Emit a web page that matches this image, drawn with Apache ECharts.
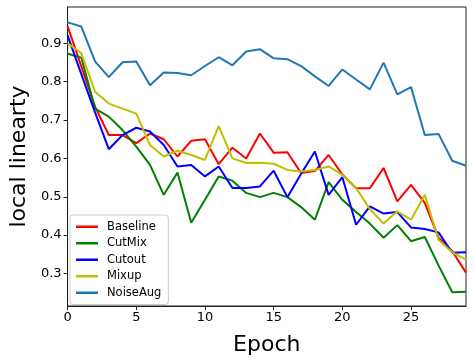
<!DOCTYPE html>
<html>
<head>
<meta charset="utf-8">
<script src="https://cdn.jsdelivr.net/npm/echarts@6/dist/echarts.min.js"></script>
<style>
html,body{margin:0;padding:0;background:#fff;}
#chart{width:474px;height:363px;}
</style>
</head>
<body>
<div id="chart"></div>
<script>
const epochs = [0,1,2,3,4,5,6,7,8,9,10,11,12,13,14,15,16,17,18,19,20,21,22,23,24,25,26,27,28,29];
const seriesNames = ['Baseline','CutMix','Cutout','Mixup','NoiseAug'];
const baseline = [0.945,0.84,0.735,0.661,0.661,0.640,0.665,0.650,0.605,0.646,0.650,0.585,0.628,0.600,0.665,0.615,0.616,0.562,0.567,0.609,0.558,0.522,0.522,0.575,0.488,0.531,0.484,0.393,0.358,0.302];
const cutmix = [0.873,0.863,0.730,0.709,0.674,0.631,0.583,0.505,0.563,0.432,0.492,0.553,0.542,0.510,0.499,0.510,0.499,0.473,0.440,0.538,0.492,0.460,0.430,0.393,0.426,0.384,0.395,0.321,0.251,0.252];
const cutout = [0.921,0.820,0.720,0.624,0.661,0.680,0.670,0.635,0.579,0.583,0.553,0.579,0.523,0.523,0.527,0.568,0.499,0.560,0.618,0.505,0.551,0.427,0.475,0.456,0.460,0.420,0.416,0.407,0.354,0.355];
const mixup = [0.900,0.875,0.774,0.743,0.730,0.717,0.635,0.605,0.620,0.609,0.596,0.684,0.600,0.588,0.589,0.586,0.570,0.566,0.570,0.579,0.557,0.523,0.468,0.430,0.462,0.440,0.505,0.388,0.355,0.336];
const noiseaug = [0.955,0.944,0.853,0.812,0.851,0.853,0.791,0.824,0.823,0.817,0.841,0.864,0.843,0.879,0.885,0.861,0.859,0.841,0.814,0.789,0.832,0.806,0.780,0.850,0.767,0.786,0.661,0.664,0.594,0.581];
const yTicks = [0.3,0.4,0.5,0.6,0.7,0.8,0.9];
const xTicks = [0,5,10,15,20,25];

const colors = ['#ff0000','#008000','#0000ff','#bfbf00','#1f77b4'];
const allData = [baseline, cutmix, cutout, mixup, noiseaug];

const chart = echarts.init(document.getElementById('chart'), null, {renderer:'canvas'});
const font = 'DejaVu Sans';
chart.setOption({
  animation:false,
  backgroundColor:'#ffffff',
  grid:{left:65,right:8,top:7,bottom:57,show:true,borderColor:'#222',borderWidth:1,backgroundColor:'transparent'},
  legend:{
    left:70, top:215, orient:'vertical',
    data:seriesNames,
    icon:'rect', itemWidth:22, itemHeight:2.5, itemGap:3,
    padding:[5,7,5,6],
    backgroundColor:'rgba(255,255,255,0.8)',
    borderColor:'#cccccc', borderWidth:1, borderRadius:3,
    textStyle:{fontFamily:font,fontSize:11.5,color:'#000',lineHeight:13.5,padding:[0,0,0,4]}
  },
  xAxis:{
    type:'value', min:0, max:29, interval:5,
    name:'Epoch', nameLocation:'middle', nameGap:28,
    nameTextStyle:{fontFamily:font,fontSize:22,color:'#000'},
    axisLine:{show:true,onZero:false,lineStyle:{color:'#222',width:1}},
    axisTick:{show:true,inside:false,length:4,lineStyle:{color:'#222'},customValues:xTicks},
    axisLabel:{fontFamily:font,fontSize:13,color:'#000',margin:5,customValues:xTicks},
    splitLine:{show:false}
  },
  yAxis:{
    type:'value', min:0.215, max:0.995,
    name:'local linearty', nameLocation:'middle', nameGap:34, nameRotate:90,
    nameTextStyle:{fontFamily:font,fontSize:22,color:'#000'},
    axisLine:{show:true,onZero:false,lineStyle:{color:'#222',width:1}},
    axisTick:{show:true,inside:false,length:4,lineStyle:{color:'#222'},customValues:yTicks},
    axisLabel:{fontFamily:font,fontSize:13,color:'#000',margin:6,customValues:yTicks,formatter:v=>v.toFixed(1)},
    splitLine:{show:false}
  },
  series: seriesNames.map((n,k)=>({
    name:n, type:'line', symbol:'none', showSymbol:false,
    color:colors[k],
    lineStyle:{width:2,color:colors[k]},
    data: epochs.map((e,i)=>[e, allData[k][i]])
  }))
});
</script>
</body>
</html>
